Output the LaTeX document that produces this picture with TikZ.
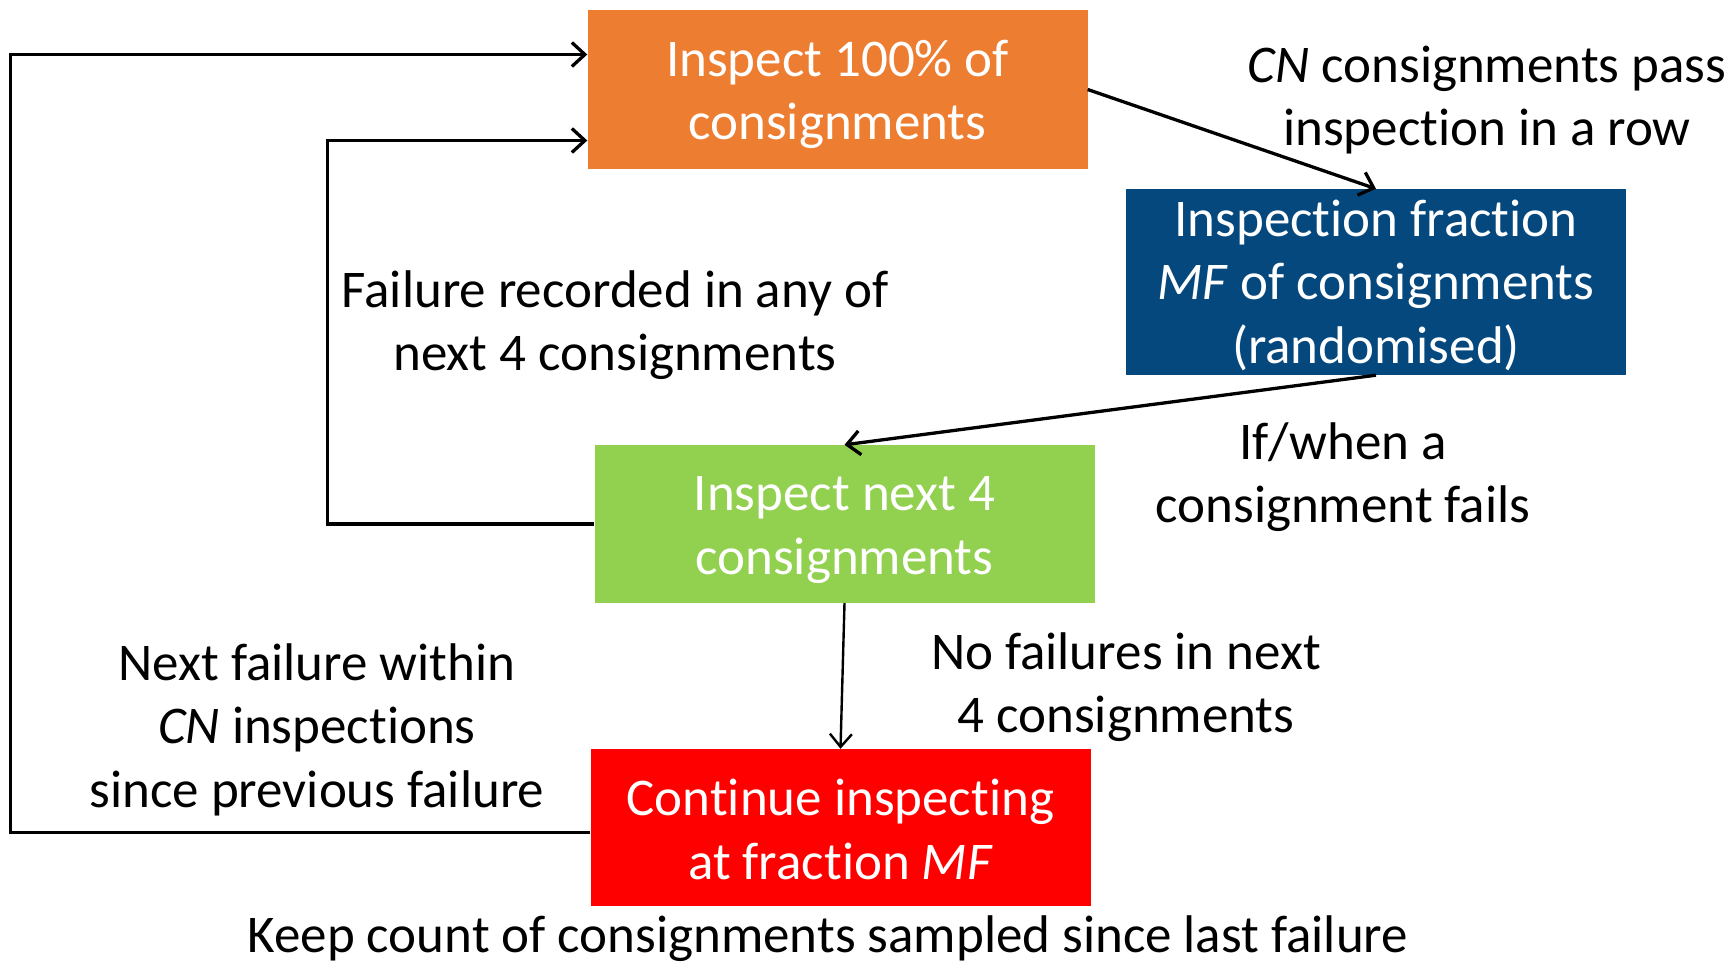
\documentclass[tikz,border=0pt]{standalone}
\usepackage{fontspec}
\setmainfont{Carlito}[Ligatures={NoCommon}]
\usetikzlibrary{arrows.meta}
\definecolor{corange}{HTML}{ED7D31}
\definecolor{cblue}{HTML}{05487E}
\definecolor{cgreen}{HTML}{92D050}
\definecolor{cred}{HTML}{FF0000}
\begin{document}
\begin{tikzpicture}[x=1pt,y=-1pt,
  every node/.style={font=\fontsize{53}{63.5}\selectfont},
  boxnode/.style={minimum width=500pt,inner sep=0pt},
  boxtext/.style={inner sep=0pt,align=center,text=white},
  lbl/.style={align=center,inner sep=0pt},
  arr/.style={line width=3.3pt,-{Straight Barb[length=13pt,width=24pt,line width=3.3pt]}},
  thinarr/.style={line width=2.4pt,-{Straight Barb[length=13pt,width=22pt,line width=2.4pt]}}]
\useasboundingbox (0,0) rectangle (1733,964);
\node[boxnode,fill=corange,minimum height=159pt] (org) at (837.5,89.5) {};
\node[boxnode,fill=cblue,minimum height=186pt] (blu) at (1376,282) {};
\node[boxnode,fill=cgreen,minimum height=158pt] (grn) at (844.5,524) {};
\node[boxnode,fill=cred,minimum height=157pt] (red) at (840.5,827.5) {};
\node[boxtext] (orgt) at ([yshift=-5pt]org.center) {Inspect 100\% of\\consignments};
\node[boxtext] (blut) at ([yshift=-3pt]blu.center) {Inspection fraction\\\textit{MF} of consignments\\(randomised)};
\node[boxtext] (grnt) at ([yshift=-6pt]grn.center) {Inspect next 4\\consignments};
\node[boxtext] (redt) at ([yshift=-2pt]red.center) {Continue inspecting\\at fraction \textit{MF}};
\node[lbl] (l1) at (1487,100) {\textit{CN} consignments pass\\inspection in a row};
\node[lbl] (l2) at (615,325) {Failure recorded in any of\\next 4 consignments};
\node[lbl] (l3) at (1343,477) {If/when a\\consignment fails};
\node[lbl] (l4) at (1126,687) {No failures in next\\4 consignments};
\node[lbl] (l5) at (317,729.5) {Next failure within\\\textit{CN} inspections\\since previous failure};
\node[lbl] (l6) at (828,939) {Keep count of consignments sampled since last failure};
\draw[arr] (org.east) -- (blu.north);
\draw[arr] (blu.south) -- (grn.north);
\draw[thinarr] (grn.south) -- (red.north);
\draw[arr] (grn.west) -- ++(-267,0) |- ([yshift=-51pt]org.west);
\draw[arr] ([yshift=-5pt]red.west) -- ++(-580,0) |- ([yshift=35pt]org.west);
\end{tikzpicture}
\end{document}
